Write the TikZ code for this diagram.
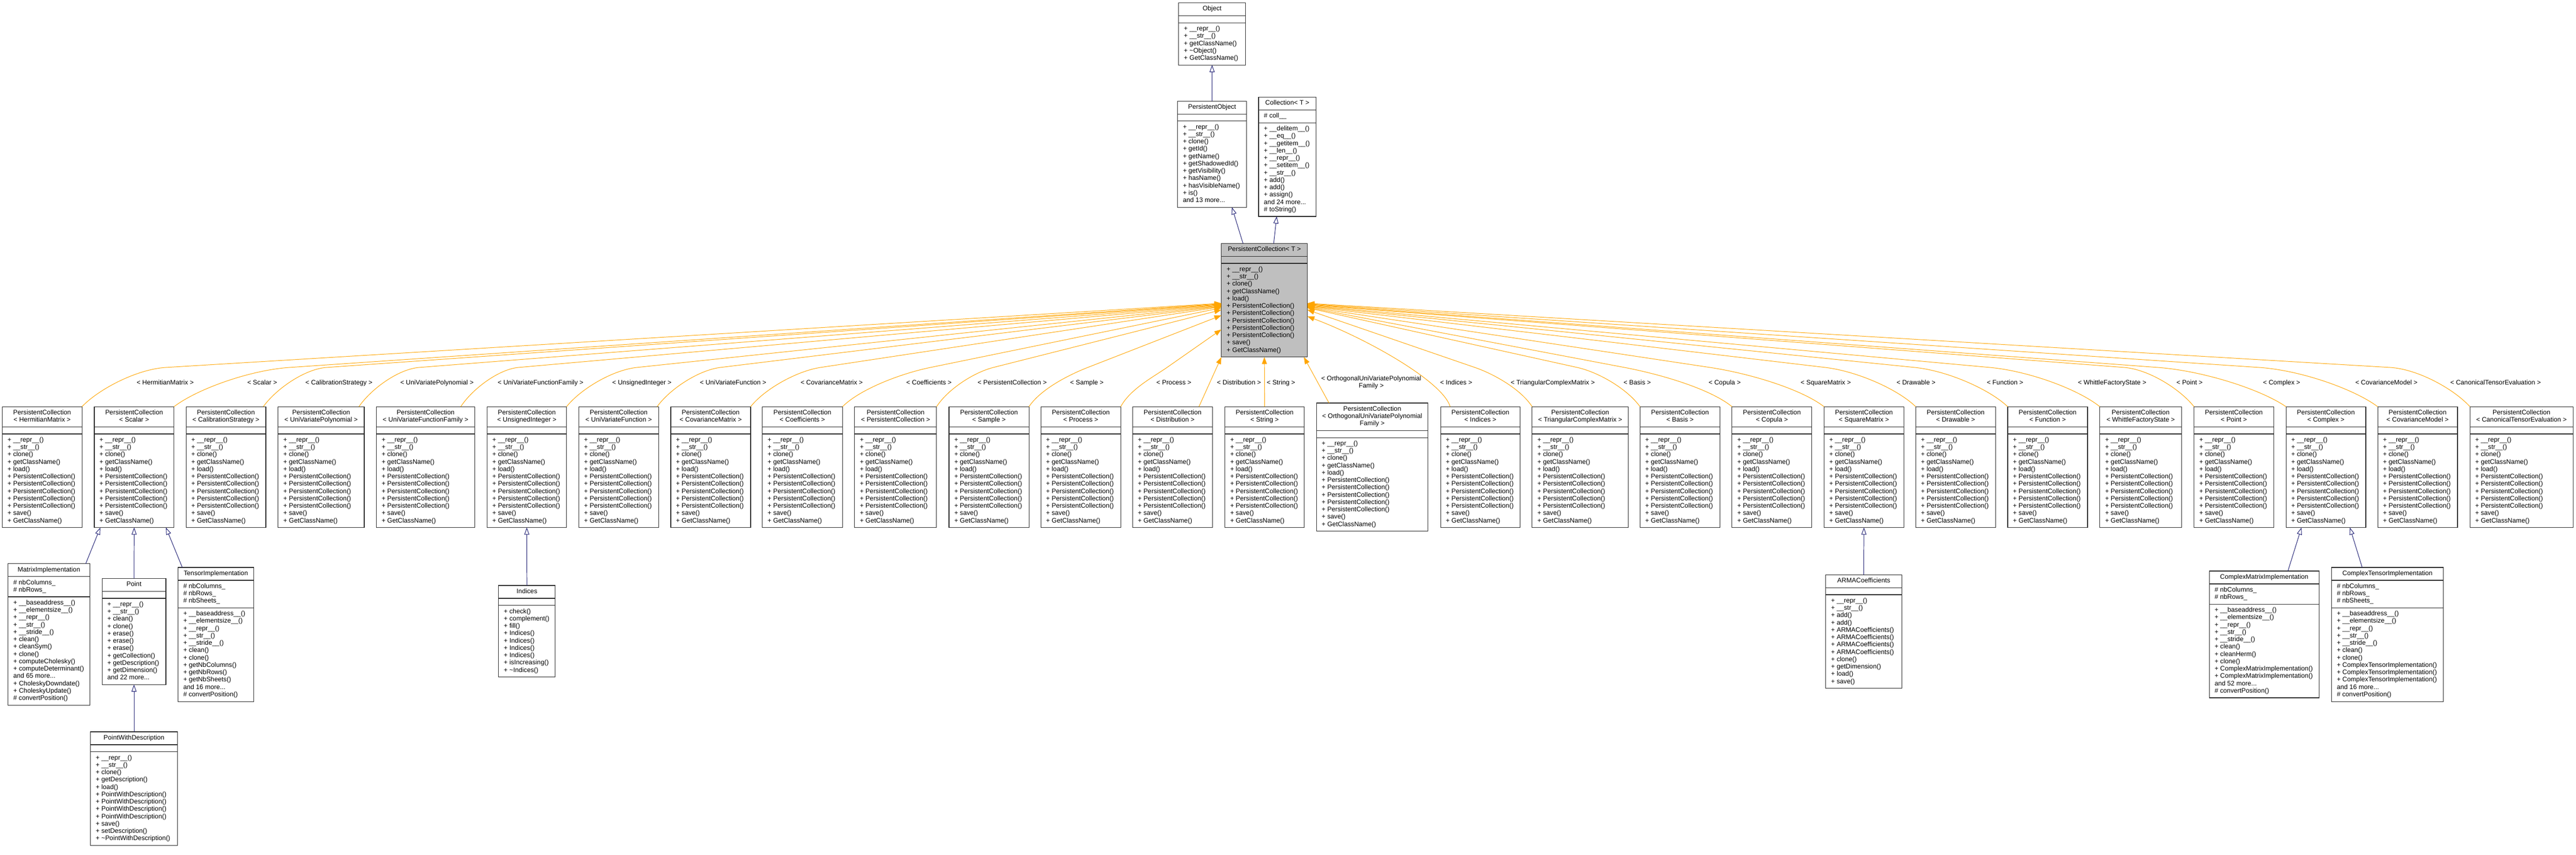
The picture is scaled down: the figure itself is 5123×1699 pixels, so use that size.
\documentclass[tikz,border=0pt]{standalone}
\usepackage{fontspec}
\setmainfont{Liberation Sans}
\usetikzlibrary{arrows.meta,calc}
\definecolor{edgeorange}{HTML}{FFA500}
\definecolor{inhblue}{HTML}{191970}
\definecolor{pcgray}{HTML}{BFBFBF}
\newcommand\umlfont{\fontsize{13}{14.6}\selectfont}
\newcommand\uml[8][]{%
  \node[umlpart,#1] (#2-h) at (#3,#4) {\makebox[\dimexpr#5pt-21pt\relax][c]{\begin{tabular}{@{}c@{}}#6\end{tabular}}};
  \node[umlpart,#1] (#2-a) at (#2-h.south west) {\makebox[\dimexpr#5pt-21pt\relax][l]{\begin{tabular}{@{}l@{}}#7\end{tabular}}};
  \node[umlpart,#1] (#2-m) at (#2-a.south west) {\makebox[\dimexpr#5pt-21pt\relax][l]{\begin{tabular}{@{}l@{}}#8\end{tabular}}};
}
\newcommand\PCM{+ \_\_repr\_\_()\\+ \_\_str\_\_()\\+ clone()\\+ getClassName()\\+ load()\\+ PersistentCollection()\\+ PersistentCollection()\\+ PersistentCollection()\\+ PersistentCollection()\\+ PersistentCollection()\\+ save()\\+ GetClassName()}
\newcommand\rowbox[4]{\uml{#1}{#2}{808.5}{#3}{PersistentCollection\\< #4 >}{}{\PCM}}
\newcommand\tedge[6]{%
  \path (#2) coordinate (#1s) ++(#3,-78) coordinate (#1p);
  \path (#4) ++(0,#5) coordinate (#1t);
  \draw[tmpl] (#1s) .. controls ($(#1s)+(#3/5,-35)$) and ($(#1p)!-#6pt!(#1t)$) .. (#1p) -- (#1t);
}
\begin{document}
\begin{tikzpicture}[x=1pt,y=-1pt,
  umlpart/.style={draw=black!85, line width=1.2pt, fill=white, anchor=north west, inner xsep=10.5pt, inner ysep=5.5pt, outer sep=0pt, font=\umlfont, text=black},
  lbl/.style={font=\umlfont, inner sep=0pt, anchor=base, text=black},
  tmpl/.style={draw=edgeorange, line width=1pt, -{Triangle[length=14pt,width=10pt]}},
  inh/.style={draw=inhblue, line width=1pt, -{Triangle[length=14pt,width=10pt,fill=white]}}]
\fill[white] (0,0) rectangle (5123,1699);
\useasboundingbox (0,0) rectangle (5123,1699);

% ---- top hierarchy ----
\uml{obj}{2344}{5.7}{133}{Object}{}{+ \_\_repr\_\_()\\+ \_\_str\_\_()\\+ getClassName()\\+ \textasciitilde Object()\\+ GetClassName()}
\uml{po}{2342}{201}{137}{PersistentObject}{}{+ \_\_repr\_\_()\\+ \_\_str\_\_()\\+ clone()\\+ getId()\\+ getName()\\+ getShadowedId()\\+ getVisibility()\\+ hasName()\\+ hasVisibleName()\\+ is()\\and 13 more...}
\uml{coll}{2503}{193}{114}{Collection< T >}{\# coll\_\_}{+ \_\_delitem\_\_()\\+ \_\_eq\_\_()\\+ \_\_getitem\_\_()\\+ \_\_len\_\_()\\+ \_\_repr\_\_()\\+ \_\_setitem\_\_()\\+ \_\_str\_\_()\\+ add()\\+ add()\\+ assign()\\and 24 more...\\\# toString()}
\uml[fill=pcgray]{pc}{2429}{484}{171}{PersistentCollection< T >}{}{\PCM}

% ---- row of template instances ----
\rowbox{hm}{4.5}{158.5}{HermitianMatrix}
\rowbox{sc}{187.5}{158.5}{Scalar}
\rowbox{cs}{370}{158.6}{CalibrationStrategy}
\rowbox{uvp}{553}{171.3}{UniVariatePolynomial}
\rowbox{uvff}{748.5}{195.8}{UniVariateFunctionFamily}
\rowbox{ui}{968.6}{158.1}{UnsignedInteger}
\rowbox{uvf}{1151}{158.8}{UniVariateFunction}
\rowbox{cm}{1334}{158.8}{CovarianceMatrix}
\rowbox{co}{1516}{159.5}{Coefficients}
\rowbox{pcc}{1699.6}{163}{PersistentCollection}
\rowbox{sa}{1887.3}{159}{Sample}
\rowbox{pr}{2069.9}{159}{Process}
\rowbox{di}{2252.4}{159}{Distribution}
\rowbox{st}{2436}{158}{String}
\uml{ou}{2618}{801.2}{222}{PersistentCollection\\< OrthogonalUniVariatePolynomial\\Family >}{}{\PCM}
\rowbox{in}{2865}{158}{Indices}
\rowbox{tcm}{3047}{191}{TriangularComplexMatrix}
\rowbox{ba}{3261.5}{159.3}{Basis}
\rowbox{cp}{3444.5}{158.7}{Copula}
\rowbox{sm}{3627.5}{158.7}{SquareMatrix}
\rowbox{dr}{3809.8}{158.8}{Drawable}
\rowbox{fu}{3992.8}{158.8}{Function}
\rowbox{wf}{4176}{162.4}{WhittleFactoryState}
\rowbox{pt}{4363.3}{158.6}{Point}
\rowbox{cx}{4546.2}{158.7}{Complex}
\rowbox{cvm}{4728.6}{158.6}{CovarianceModel}
\rowbox{cte}{4912}{205}{CanonicalTensorEvaluation}

% ---- derived classes ----
\uml{mi}{16}{1120.6}{162.6}{MatrixImplementation}{\# nbColumns\_\\\# nbRows\_}{+ \_\_baseaddress\_\_()\\+ \_\_elementsize\_\_()\\+ \_\_repr\_\_()\\+ \_\_str\_\_()\\+ \_\_stride\_\_()\\+ clean()\\+ cleanSym()\\+ clone()\\+ computeCholesky()\\+ computeDeterminant()\\and 65 more...\\+ CholeskyDowndate()\\+ CholeskyUpdate()\\\# convertPosition()}
\uml{pnt}{203}{1150}{127}{Point}{}{+ \_\_repr\_\_()\\+ \_\_str\_\_()\\+ clean()\\+ clone()\\+ erase()\\+ erase()\\+ erase()\\+ getCollection()\\+ getDescription()\\+ getDimension()\\and 22 more...}
\uml{ti}{354}{1128}{150.5}{TensorImplementation}{\# nbColumns\_\\\# nbRows\_\\\# nbSheets\_}{+ \_\_baseaddress\_\_()\\+ \_\_elementsize\_\_()\\+ \_\_repr\_\_()\\+ \_\_str\_\_()\\+ \_\_stride\_\_()\\+ clean()\\+ clone()\\+ getNbColumns()\\+ getNbRows()\\+ getNbSheets()\\and 16 more...\\\# convertPosition()}
\uml{pwd}{180}{1455}{173}{PointWithDescription}{}{+ \_\_repr\_\_()\\+ \_\_str\_\_()\\+ clone()\\+ getDescription()\\+ load()\\+ PointWithDescription()\\+ PointWithDescription()\\+ PointWithDescription()\\+ PointWithDescription()\\+ save()\\+ setDescription()\\+ \textasciitilde PointWithDescription()}
\uml{idx}{991.5}{1164}{112.9}{Indices}{}{+ check()\\+ complement()\\+ fill()\\+ Indices()\\+ Indices()\\+ Indices()\\+ Indices()\\+ isIncreasing()\\+ \textasciitilde Indices()}
\uml{arma}{3631}{1142.7}{151}{ARMACoefficients}{}{+ \_\_repr\_\_()\\+ \_\_str\_\_()\\+ add()\\+ add()\\+ ARMACoefficients()\\+ ARMACoefficients()\\+ ARMACoefficients()\\+ ARMACoefficients()\\+ clone()\\+ getDimension()\\+ load()\\+ save()}
\uml{cmi}{4393.7}{1135.3}{218.3}{ComplexMatrixImplementation}{\# nbColumns\_\\\# nbRows\_}{+ \_\_baseaddress\_\_()\\+ \_\_elementsize\_\_()\\+ \_\_repr\_\_()\\+ \_\_str\_\_()\\+ \_\_stride\_\_()\\+ clean()\\+ cleanHerm()\\+ clone()\\+ ComplexMatrixImplementation()\\+ ComplexMatrixImplementation()\\and 52 more...\\\# convertPosition()}
\uml{cti}{4636.8}{1128}{222.5}{ComplexTensorImplementation}{\# nbColumns\_\\\# nbRows\_\\\# nbSheets\_}{+ \_\_baseaddress\_\_()\\+ \_\_elementsize\_\_()\\+ \_\_repr\_\_()\\+ \_\_str\_\_()\\+ \_\_stride\_\_()\\+ clean()\\+ clone()\\+ ComplexTensorImplementation()\\+ ComplexTensorImplementation()\\+ ComplexTensorImplementation()\\and 16 more...\\\# convertPosition()}

% ---- inheritance edges ----
\draw[inh] (po-h.north) -- (obj-m.south);
\draw[inh] ([xshift=43pt]pc-h.north west) -- ([xshift=108pt]po-m.south west);
\draw[inh] ([xshift=104pt]pc-h.north west) -- ([xshift=36pt]coll-m.south west);
\draw[inh] ([xshift=154.5pt]mi-h.north west) -- ([xshift=12pt]sc-m.south west);
\draw[inh] (pnt-h.north) -- (sc-m.south);
\draw[inh] ([xshift=8.5pt]ti-h.north west) -- ([xshift=-16pt]sc-m.south east);
\draw[inh] (pwd-h.north) -- (pnt-m.south);
\draw[inh] (idx-h.north) -- (ui-m.south);
\draw[inh] (arma-h.north) -- (sm-m.south);
\draw[inh] ([xshift=156.3pt]cmi-h.north west) -- ([xshift=30.8pt]cx-m.south west);
\draw[inh] ([xshift=60.9pt]cti-h.north west) -- ([xshift=-31.6pt]cx-m.south east);

% ---- template instance edges ----
\tedge{e1}{hm-h.north east}{167}{pc-h.north west}{119}{58}
\tedge{e2}{sc-h.north east}{230}{pc-h.north west}{120}{80}
\tedge{e3}{[xshift=-5pt]cs-h.north east}{126}{pc-h.north west}{121}{44}
\tedge{e4}{[xshift=-10.5pt]uvp-h.north east}{120}{pc-h.north west}{122}{42}
\tedge{e5}{[xshift=-28pt]uvff-h.north east}{115}{pc-h.north west}{123}{40}
\tedge{e6}{ui-h.north east}{140}{pc-h.north west}{124}{49}
\tedge{e7}{[xshift=-3pt]uvf-h.north east}{126}{pc-h.north west}{125}{44}
\tedge{e8}{cm-h.north east}{139}{pc-h.north west}{126}{48}
\tedge{e9}{co-h.north east}{175}{pc-h.north west}{128}{60}
\tedge{e10}{pcc-h.north east}{113}{pc-h.north west}{132}{40}
\tedge{e11}{sa-h.north east}{117}{pc-h.north west}{143}{40}
\tedge{e12}{pr-h.north east}{92}{pc-h.north west}{171}{32}
\draw[tmpl] ([xshift=-27pt]di-h.north east) -- (pc-m.south west);
\draw[tmpl] (st-h.north) -- (pc-m.south);
\draw[tmpl] ([xshift=25pt]ou-h.north west) -- ([xshift=-7pt]pc-m.south east);
\path ([xshift=19pt]in-h.north west) coordinate (e16s);
\path (pc-h.north east) ++(0,145) coordinate (e16t);
\draw[tmpl] (e16s) .. controls ($(e16s)+(-15,-50)$) and ($(e16t)+(120,45)$) .. (e16t);
\tedge{e17}{tcm-h.north west}{-114}{pc-h.north east}{132}{40}
\tedge{e18}{ba-h.north west}{-125}{pc-h.north east}{128}{44}
\tedge{e19}{cp-h.north west}{-214}{pc-h.north east}{127}{75}
\tedge{e20}{sm-h.north west}{-227}{pc-h.north east}{126}{80}
\tedge{e21}{dr-h.north west}{-180}{pc-h.north east}{125}{63}
\tedge{e22}{fu-h.north west}{-185}{pc-h.north east}{124}{65}
\tedge{e23}{wf-h.north west}{-219}{pc-h.north east}{123}{77}
\tedge{e24}{pt-h.north west}{-139}{pc-h.north east}{122}{49}
\tedge{e25}{cx-h.north west}{-255}{pc-h.north east}{121}{89}
\tedge{e26}{cvm-h.north west}{-236}{pc-h.north east}{120}{83}
\tedge{e27}{cte-h.north west}{-159}{pc-h.north east}{119}{56}

% ---- edge labels ----
\node[lbl] (l1) at (328.5,764.5) {< HermitianMatrix >};
\node[lbl] (l2) at (521.5,764.5) {< Scalar >};
\node[lbl] (l3) at (674,764.5) {< CalibrationStrategy >};
\node[lbl] (l4) at (869,764.5) {< UniVariatePolynomial >};
\node[lbl] (l5) at (1075,764.5) {< UniVariateFunctionFamily >};
\node[lbl] (l6) at (1276.5,764.5) {< UnsignedInteger >};
\node[lbl] (l7) at (1458,764.5) {< UniVariateFunction >};
\node[lbl] (l8) at (1654,764.5) {< CovarianceMatrix >};
\node[lbl] (l9) at (1847.5,764.5) {< Coefficients >};
\node[lbl] (l10) at (2013,764.5) {< PersistentCollection >};
\node[lbl] (l11) at (2161.5,764.5) {< Sample >};
\node[lbl] (l12) at (2334.5,764.5) {< Process >};
\node[lbl] (l13) at (2464,764.5) {< Distribution >};
\node[lbl] (l14) at (2547.5,764.5) {< String >};
\node[font=\umlfont, inner sep=0pt, anchor=center] (l15) at (2727,761) {\begin{tabular}{@{}c@{}}< OrthogonalUniVariatePolynomial\\Family >\end{tabular}};
\node[lbl] (l16) at (2896,764.5) {< Indices >};
\node[lbl] (l17) at (3088,764.5) {< TriangularComplexMatrix >};
\node[lbl] (l18) at (3256,764.5) {< Basis >};
\node[lbl] (l19) at (3430,764.5) {< Copula >};
\node[lbl] (l20) at (3631,764.5) {< SquareMatrix >};
\node[lbl] (l21) at (3810.5,764.5) {< Drawable >};
\node[lbl] (l22) at (3987.5,764.5) {< Function >};
\node[lbl] (l23) at (4200.5,764.5) {< WhittleFactoryState >};
\node[lbl] (l24) at (4354.5,764.5) {< Point >};
\node[lbl] (l25) at (4537.5,764.5) {< Complex >};
\node[lbl] (l26) at (4746,764.5) {< CovarianceModel >};
\node[lbl] (l27) at (4963,764.5) {< CanonicalTensorEvaluation >};
\end{tikzpicture}
\end{document}
